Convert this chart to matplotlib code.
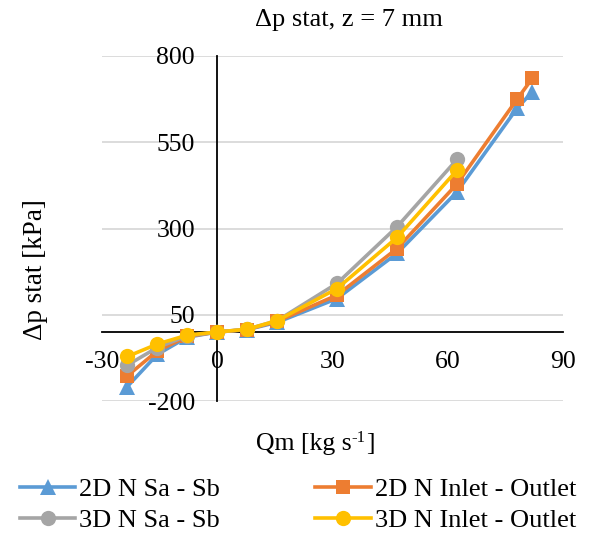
import matplotlib
matplotlib.use("Agg")
import matplotlib.pyplot as plt

# Data
qm_2d = [-23.4, -15.6, -7.8, 0, 7.8, 15.6, 31.2, 46.8, 62.4, 78, 82]
qm_3d = [-23.4, -15.6, -7.8, 0, 7.8, 15.6, 31.2, 46.8, 62.4]

dp_2d_sa_sb = [-158, -65, -15, 0, 7, 28, 97, 228, 406, 648, 696]
dp_2d_inlet_outlet = [-127, -55, -13, 0, 7, 31, 107, 242, 429, 674, 735]
dp_3d_sa_sb = [-96, -45, -11, 0, 8, 33, 141, 305, 500]
dp_3d_inlet_outlet = [-71, -35, -9, 0, 8, 33, 126, 274, 469]

y_ticks = [-200, 50, 300, 550, 800]
x_ticks = [-30, 0, 30, 60, 90]

C_BLUE = "#5B9BD5"
C_ORANGE = "#ED7D31"
C_GRAY = "#A5A5A5"
C_YELLOW = "#FFC000"

plt.rcParams["font.family"] = ["Liberation Serif", "DejaVu Serif"]
plt.rcParams["axes.unicode_minus"] = False

fig = plt.figure(figsize=(5.92, 5.36), dpi=100, facecolor="white")
ax = fig.add_axes([102 / 592, 1 - 401 / 536, (563 - 102) / 592, (401 - 56) / 536])

series = [
    (qm_2d, dp_2d_sa_sb, C_BLUE, "^", 11, "2D N Sa - Sb"),
    (qm_2d, dp_2d_inlet_outlet, C_ORANGE, "s", 10, "2D N Inlet - Outlet"),
    (qm_3d, dp_3d_sa_sb, C_GRAY, "o", 11, "3D N Sa - Sb"),
    (qm_3d, dp_3d_inlet_outlet, C_YELLOW, "o", 11, "3D N Inlet - Outlet"),
]
for i, (x, y, c, m, ms, lab) in enumerate(series):
    ax.plot(x, y, color=c, lw=2.6, marker=m, markersize=ms,
            markeredgewidth=0, label=lab, zorder=3 + i, clip_on=False)

ax.set_xlim(-30, 90)
ax.set_ylim(-200, 800)
ax.set_xticks(x_ticks)
ax.set_yticks(y_ticks)

# axes crossing at zero, Excel style
ax.spines["left"].set_position(("data", 0))
ax.spines["bottom"].set_position(("data", 0))
ax.spines["right"].set_visible(False)
ax.spines["top"].set_visible(False)
for s in ("left", "bottom"):
    ax.spines[s].set_color("black")
    ax.spines[s].set_linewidth(1.3)
    ax.spines[s].set_zorder(2)

ax.yaxis.grid(True, color="#D9D9D9", linewidth=1.3, zorder=0)
ax.set_axisbelow(True)
ax.tick_params(axis="both", length=0, labelsize=18.5, colors="black")
ax.tick_params(axis="y", pad=16)
ax.tick_params(axis="x", pad=14)

fig.text(349 / 592, 1 - 20 / 536, "\u0394p stat, z = 7 mm", fontsize=19,
         ha="center", va="center")

# x label with a hyphen superscript, built from three pieces
t1 = fig.text(256 / 592, 1 - 444 / 536, "Qm [kg s", fontsize=18.5,
              ha="left", va="center")
t2 = ax.annotate("-1", xy=(1.0, 1.13), xycoords=t1, fontsize=12,
                 ha="left", va="top", annotation_clip=False)
ax.annotate("]", xy=(1.0, 0.0), xycoords=(t2, t1), fontsize=18.5,
            ha="left", va="bottom", annotation_clip=False)

fig.text(35 / 592, 1 - 270 / 536, "\u0394p stat [kPa]", fontsize=19.5,
         rotation=90, ha="center", va="center")

handles, labels = ax.get_legend_handles_labels()
order = [0, 2, 1, 3]
fig.legend([handles[i] for i in order], [labels[i] for i in order],
           loc="center left", bbox_to_anchor=(20 / 592, 1 - 505 / 536), ncol=2,
           frameon=False, fontsize=19, handlelength=2.1, handletextpad=0.15,
           columnspacing=3.6, labelspacing=0.3, borderpad=0, borderaxespad=0)

fig.savefig("out.png", dpi=100, facecolor="white")
